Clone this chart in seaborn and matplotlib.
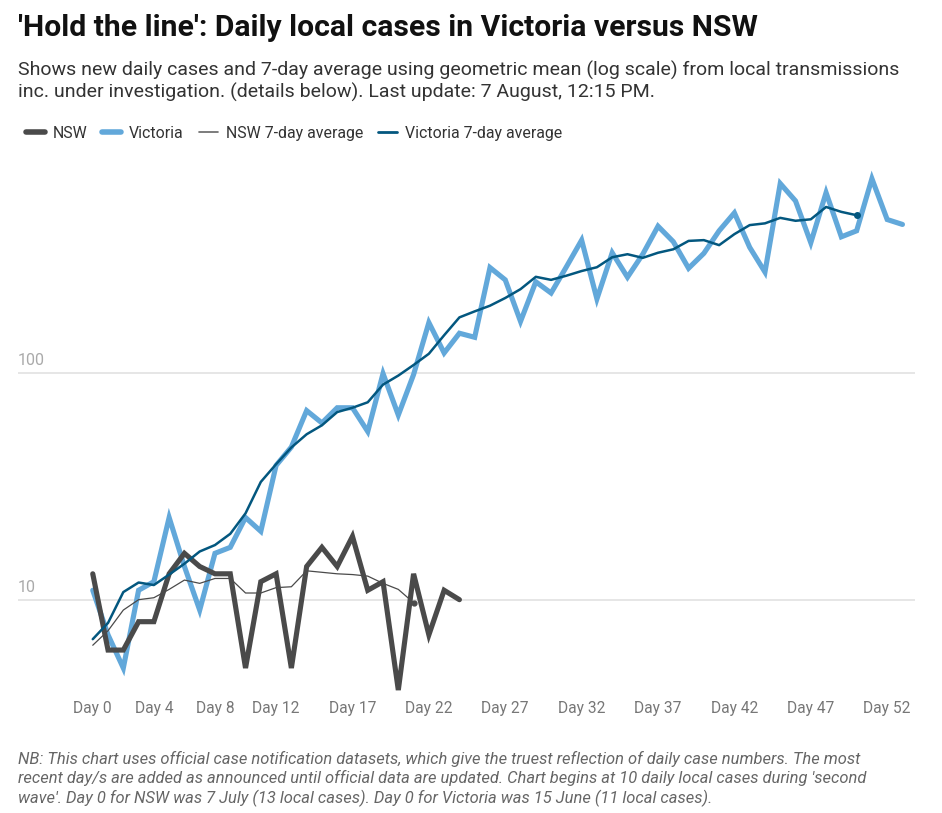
import numpy as np
import pandas as pd
import matplotlib
matplotlib.use("Agg")
import matplotlib.pyplot as plt
import matplotlib.transforms as mtransforms
from matplotlib.lines import Line2D
import seaborn as sns

# Daily local cases
nsw_cases = [13, 6, 6, 8, 8, 13, 16, 14, 13, 13, 5, 12, 13, 5, 14, 17, 14, 19,
             11, 12, 4, 13, 7, 11, 10]
vic_cases = [11, 7, 5, 11, 12, 23, 14, 9, 16, 17, 23, 20, 39, 47, 68, 60, 70, 70,
             55, 99, 65, 98, 166, 122, 149, 143, 290, 256, 168, 251, 224, 292,
             383, 211, 337, 263, 332, 441, 377, 288, 335, 421, 505, 356, 277,
             680, 570, 373, 620, 396, 421, 714, 472, 449]
# 7-day geometric mean
nsw_avg = [6.3, 7.3, 9.0, 10.0, 10.2, 11.1, 12.2, 11.8, 12.4, 12.4, 10.7, 10.7,
           11.3, 11.4, 13.4, 13.2, 13.0, 12.9, 12.7, 11.8, 11.1, 9.7]
vic_avg = [6.7, 7.9, 10.8, 11.9, 11.6, 12.9, 14.4, 16.3, 17.4, 19.5, 24.0, 33,
           39.5, 46.8, 53.5, 58.6, 67, 70, 74, 88.5, 97, 108, 121, 146, 175, 186,
           197, 213, 233, 264, 256, 267, 280, 291, 322, 332, 320, 337, 349, 380,
           383, 364, 407, 446, 454, 480, 466, 473, 536, 510, 493]
tick_days = [0, 4, 8, 12, 17, 22, 27, 32, 37, 42, 47, 52]

nsw = pd.DataFrame({"day": range(len(nsw_cases)), "cases": nsw_cases})
vic = pd.DataFrame({"day": range(len(vic_cases)), "cases": vic_cases})
nsw_a = pd.DataFrame({"day": range(len(nsw_avg)), "cases": nsw_avg})
vic_a = pd.DataFrame({"day": range(len(vic_avg)), "cases": vic_avg})

sns.set_style("white")
plt.rcParams["font.family"] = ["Roboto", "DejaVu Sans"]

c_nsw = "#4a4a4a"
c_vic = "#62a8da"
c_vic_avg = "#03577f"

fig = plt.figure(figsize=(9.42, 8.13), dpi=100)
ax = fig.add_axes([0.019, 0.145, 0.952, 0.652])

sns.lineplot(data=vic, x="day", y="cases", ax=ax, color=c_vic, lw=3.7,
             solid_joinstyle="miter", zorder=2)
sns.lineplot(data=nsw, x="day", y="cases", ax=ax, color=c_nsw, lw=3.7,
             solid_joinstyle="miter", zorder=3)
sns.lineplot(data=nsw_a, x="day", y="cases", ax=ax, color=c_nsw, lw=0.9, zorder=4)
sns.lineplot(data=vic_a, x="day", y="cases", ax=ax, color=c_vic_avg, lw=1.8, zorder=4)
ax.plot(nsw_a["day"].iloc[-1], nsw_a["cases"].iloc[-1], "o", color=c_nsw, ms=3.5, zorder=5)
ax.plot(vic_a["day"].iloc[-1], vic_a["cases"].iloc[-1], "o", color=c_vic_avg, ms=4, zorder=5)

ax.set_yscale("log")
ax.set_ylim(3.8, 820)
ax.set_xlim(-4.9, 53.8)
ax.set_yticks([10, 100])
ax.set_yticklabels([])
ax.tick_params(axis="y", length=0)
ax.yaxis.grid(True, color="#e2e2e2", lw=1.2)
ax.minorticks_off()
ax.set_xticks(tick_days)
ax.set_xticklabels([f"Day {d}" for d in tick_days], color="#777777", fontsize=11.2)
ax.tick_params(axis="x", length=0, pad=4)
ax.set_xlabel("")
ax.set_ylabel("")
sns.despine(ax=ax, left=True, bottom=True)

trans = mtransforms.blended_transform_factory(ax.transAxes, ax.transData)
for v in [10, 100]:
    ax.text(0.0, v * 1.05, f"{v}", transform=trans, ha="left", va="bottom",
            color="#aaaaaa", fontsize=11.5)

fig.text(0.019, 0.965, "'Hold the line': Daily local cases in Victoria versus NSW",
         fontsize=21.7, fontweight="bold", color="#111111", va="center")
fig.text(0.019, 0.9,
         "Shows new daily cases and 7-day average using geometric mean (log scale) from local transmissions\n"
         "inc. under investigation. (details below). Last update: 7 August, 12:15 PM.",
         fontsize=14, color="#333333", va="center", linespacing=1.2)

handles = [
    Line2D([], [], color=c_nsw, lw=4, solid_capstyle="round"),
    Line2D([], [], color=c_vic, lw=4, solid_capstyle="round"),
    Line2D([], [], color="#666666", lw=1.2),
    Line2D([], [], color=c_vic_avg, lw=2),
]
fig.legend(handles, ["NSW", "Victoria", "NSW 7-day average", "Victoria 7-day average"],
           loc="center left", bbox_to_anchor=(0.012, 0.836), ncol=4, frameon=False,
           handlelength=1.2, handletextpad=0.5, columnspacing=0.95,
           prop={"size": 11.4}, labelcolor="#333333")

fig.text(0.019, 0.042,
         "NB: This chart uses official case notification datasets, which give the truest reflection of daily case numbers. The most\n"
         "recent day/s are added as announced until official data are updated. Chart begins at 10 daily local cases during 'second\n"
         "wave'. Day 0 for NSW was 7 July (13 local cases). Day 0 for Victoria was 15 June (11 local cases).",
         fontsize=11.9, style="italic", color="#666666", va="center", linespacing=1.25)

fig.savefig("out.png", dpi=100)
